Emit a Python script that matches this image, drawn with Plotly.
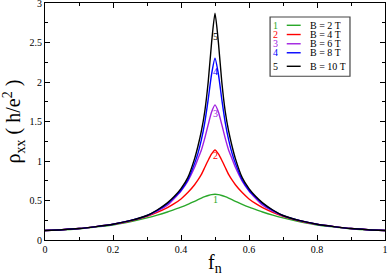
import plotly.graph_objects as go

f_n = [0, 0.05, 0.1, 0.15, 0.2, 0.25, 0.3, 0.33, 0.36, 0.38, 0.4, 0.42, 0.44, 0.45, 0.46, 0.47, 0.48, 0.49, 0.5,
       0.51, 0.52, 0.53, 0.54, 0.55, 0.56, 0.58, 0.6, 0.62, 0.64, 0.67, 0.7, 0.75, 0.8, 0.85, 0.9, 0.95, 1.0]

rho_B2 = [0.12, 0.128, 0.143, 0.165, 0.19, 0.23, 0.28, 0.315, 0.355, 0.385, 0.415, 0.45, 0.49, 0.51, 0.53, 0.548,
          0.563, 0.575, 0.58,
          0.575, 0.563, 0.548, 0.53, 0.51, 0.49, 0.45, 0.415, 0.385, 0.355, 0.315, 0.28, 0.23, 0.19, 0.165,
          0.143, 0.128, 0.12]
rho_B4 = [0.12, 0.13, 0.145, 0.17, 0.198, 0.24, 0.30, 0.35, 0.41, 0.46, 0.52, 0.60, 0.70, 0.76, 0.83, 0.92,
          1.01, 1.09, 1.14,
          1.09, 1.01, 0.92, 0.83, 0.76, 0.70, 0.60, 0.52, 0.46, 0.41, 0.35, 0.30, 0.24, 0.198, 0.17,
          0.145, 0.13, 0.12]
rho_B6 = [0.12, 0.13, 0.145, 0.17, 0.20, 0.243, 0.305, 0.365, 0.44, 0.525, 0.62, 0.745, 0.92, 1.03, 1.14, 1.29,
          1.46, 1.62, 1.71,
          1.62, 1.46, 1.29, 1.14, 1.03, 0.92, 0.745, 0.62, 0.525, 0.44, 0.365, 0.305, 0.243, 0.20, 0.17,
          0.145, 0.13, 0.12]
rho_B8 = [0.12, 0.13, 0.145, 0.17, 0.20, 0.245, 0.31, 0.375, 0.46, 0.54, 0.63, 0.76, 0.97, 1.10, 1.27, 1.49,
          1.78, 2.10, 2.30,
          2.10, 1.78, 1.49, 1.27, 1.10, 0.97, 0.76, 0.63, 0.54, 0.46, 0.375, 0.31, 0.245, 0.20, 0.17,
          0.145, 0.13, 0.12]
rho_B10 = [0.12, 0.13, 0.145, 0.17, 0.20, 0.245, 0.31, 0.38, 0.47, 0.55, 0.65, 0.79, 1.03, 1.19, 1.38, 1.63,
           2.00, 2.50, 2.87,
           2.50, 2.00, 1.63, 1.38, 1.19, 1.03, 0.79, 0.65, 0.55, 0.47, 0.38, 0.31, 0.245, 0.20, 0.17,
           0.145, 0.13, 0.12]

series = [rho_B2, rho_B4, rho_B6, rho_B8, rho_B10]
names = ["B = 2 T", "B = 4 T", "B = 6 T", "B = 8 T", "B = 10 T"]
numbers = ["1", "2", "3", "4", "5"]
colors = ["#2aa82a", "#ff0000", "#a020e0", "#0000ff", "#000000"]
label_y = [0.51, 1.07, 1.60, 2.13, 2.57]

SERIF = "Liberation Serif, Times New Roman, serif"

fig = go.Figure()
for ys, nm, c in zip(series, names, colors):
    fig.add_trace(go.Scatter(x=f_n, y=ys, mode="lines", name=nm,
                             line=dict(color=c, width=1.4, shape="spline", smoothing=0.6),
                             showlegend=False))

# curve labels near peaks
for num, c, ly in zip(numbers, colors, label_y):
    fig.add_annotation(x=0.5, y=ly, xref="x", yref="y", text=num, showarrow=False,
                       font=dict(family=SERIF, size=10, color=c))

# legend box (manual, xmgrace style)
lx0, lx1, ly0, ly1 = 0.662, 0.897, 0.691, 0.941
fig.add_shape(type="rect", xref="paper", yref="paper", x0=lx0, x1=lx1, y0=ly0, y1=ly1,
              line=dict(color="#444444", width=1.2), fillcolor="white")
entry_y = [0.906, 0.867, 0.828, 0.790, 0.733]
for num, nm, c, ey in zip(numbers, names, colors, entry_y):
    fig.add_annotation(x=0.691, y=ey, xref="paper", yref="paper", text=num, showarrow=False,
                       yanchor="middle", height=9,
                       font=dict(family=SERIF, size=10, color=c))
    fig.add_shape(type="line", xref="paper", yref="paper", x0=0.711, x1=0.752, y0=ey, y1=ey,
                  line=dict(color=c, width=1.4))
    fig.add_annotation(x=0.774, y=ey, xref="paper", yref="paper", text=nm, showarrow=False,
                       xanchor="left", yanchor="middle", height=9,
                       font=dict(family=SERIF, size=10, color="black"))

# x-axis title (placed as annotation to sit lower, as in the reference)
fig.add_annotation(x=0.5, y=-0.04, xref="paper", yref="paper", text="f<sub>n</sub>",
                   showarrow=False, xanchor="center", yanchor="top",
                   font=dict(family=SERIF, size=20, color="black"))

axis_common = dict(showline=True, linecolor="black", linewidth=1, mirror="ticks",
                   ticks="inside", ticklen=5, tickcolor="black", showgrid=False, zeroline=False,
                   automargin=False, ticklabeloverflow="allow",
                   tickfont=dict(family=SERIF, size=10, color="black"))

fig.update_xaxes(range=[0, 1], dtick=0.2, tick0=0,
                 minor=dict(ticks="inside", ticklen=3, dtick=0.1, tickcolor="black", showgrid=False),
                 **axis_common)
fig.update_yaxes(range=[0, 3], dtick=0.5, tick0=0,
                 minor=dict(ticks="inside", ticklen=3, dtick=0.25, tickcolor="black", showgrid=False),
                 title=dict(text="\u03c1<sub>xx</sub> ( h/e<sup>2</sup> )",
                            font=dict(family=SERIF, size=20, color="black"), standoff=8),
                 **axis_common)

fig.update_layout(width=388, height=275, margin=dict(l=45, r=3, t=3, b=35),
                  paper_bgcolor="white", plot_bgcolor="white", showlegend=False)

fig.write_html("out.html", config={"displayModeBar": False},
               post_script="document.body.style.margin='0';document.body.style.padding='0';"
                           "document.body.style.overflow='hidden';")
